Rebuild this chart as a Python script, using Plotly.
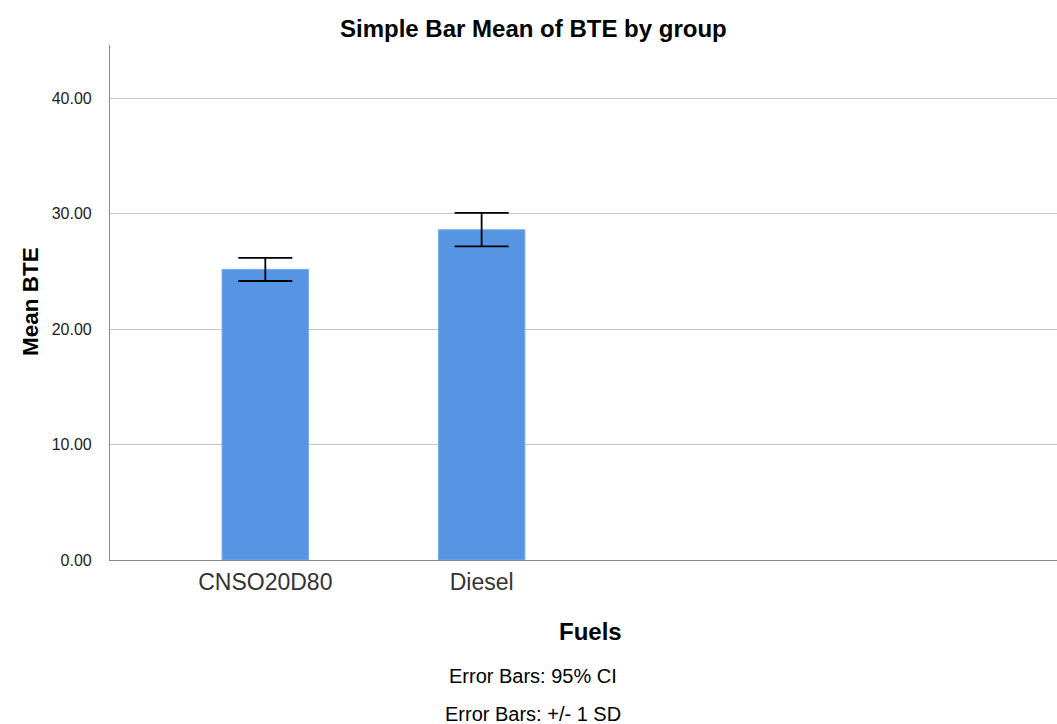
import plotly.graph_objects as go

fuels = ["CNSO20D80", "Diesel"]
mean_bte = [25.17, 28.60]
ci_plus = [1.00, 1.46]
ci_minus = [1.01, 1.44]
y_ticks = [0, 10, 20, 30, 40]
y_tick_text = ["0.00", "10.00", "20.00", "30.00", "40.00"]

W, H = 1057, 724
L, R, T, B = 110, 0, 45, 164
pw, ph = W - L - R, H - T - B

def px(x):
    return (x - L) / pw

def py(y):
    return (H - B - y) / ph

fig = go.Figure()
fig.add_trace(go.Bar(
    x=fuels, y=mean_bte, width=0.4,
    marker=dict(color="#5595e3", line=dict(color="#7aaeea", width=1)),
    error_y=dict(type="data", symmetric=False, array=ci_plus, arrayminus=ci_minus,
                 color="black", thickness=1.8, width=27),
    hoverinfo="skip",
))

font = "Liberation Sans, Arial, sans-serif"
fig.update_layout(
    width=W, height=H,
    margin=dict(l=L, r=R, t=T, b=B, pad=0),
    paper_bgcolor="white", plot_bgcolor="white",
    showlegend=False,
    font=dict(family=font, color="#222"),
    xaxis=dict(type="category", range=[-0.718, 3.66], showgrid=False,
               showline=True, linecolor="#8a8a8a", linewidth=1.2,
               ticks="", tickfont=dict(size=23, color="#333"),
               ticklabelstandoff=1, zeroline=False),
    yaxis=dict(range=[0, 44.6], tickvals=y_ticks, ticktext=y_tick_text,
               showgrid=True, gridcolor="#c6c6c6", gridwidth=1,
               showline=True, linecolor="#8a8a8a", linewidth=1.2,
               ticks="", tickfont=dict(size=16, color="#222"),
               ticklabelstandoff=14, zeroline=False),
    annotations=[
        dict(text="<b>Simple Bar Mean of BTE by group</b>", xref="paper", yref="paper",
             x=px(533), y=py(28), showarrow=False, font=dict(size=24, color="black"),
             xanchor="center", yanchor="middle"),
        dict(text="<b>Mean BTE</b>", xref="paper", yref="paper", textangle=-90,
             x=px(30), y=py(302), showarrow=False, font=dict(size=22.5, color="black"),
             xanchor="center", yanchor="middle"),
        dict(text="<b>Fuels</b>", xref="paper", yref="paper",
             x=px(590), y=py(631), showarrow=False, font=dict(size=24, color="black"),
             xanchor="center", yanchor="middle"),
        dict(text="Error Bars: 95% CI", xref="paper", yref="paper",
             x=px(533), y=py(676), showarrow=False, font=dict(size=20, color="black"),
             xanchor="center", yanchor="middle"),
        dict(text="Error Bars: +/- 1 SD", xref="paper", yref="paper",
             x=px(533), y=py(714), showarrow=False, font=dict(size=20, color="black"),
             xanchor="center", yanchor="middle"),
    ],
)

fig.write_html("out.html", config={"displayModeBar": False},
               post_script="document.body.style.margin='0';document.body.style.overflow='hidden';")
